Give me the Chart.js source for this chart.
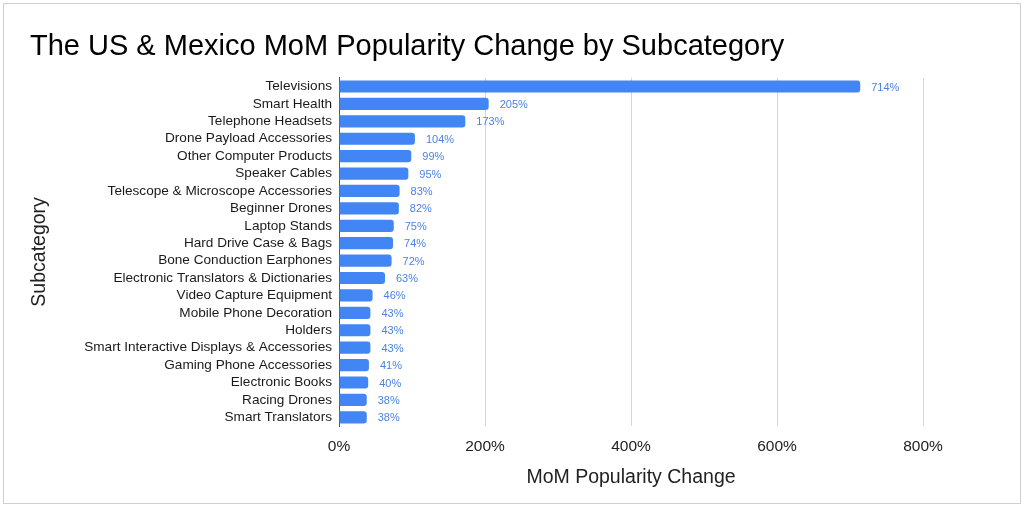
<!DOCTYPE html>
<html>
<head>
<meta charset="utf-8">
<script src="https://cdn.jsdelivr.net/npm/chart.js@4/dist/chart.umd.min.js"></script>
<style>
  html, body { margin: 0; padding: 0; background: #fff; }
  #frame { position: absolute; left: 3px; top: 3px; width: 1016px; height: 499px; border: 1px solid #cfcfcf; }
  #wrap { position: absolute; left: 0; top: 0; width: 1024px; height: 507px; }
</style>
</head>
<body>
<div id="frame"></div>
<div id="wrap"><canvas id="chart"></canvas></div>
<script>
const subcategories = [
  "Televisions", "Smart Health", "Telephone Headsets", "Drone Payload Accessories",
  "Other Computer Products", "Speaker Cables", "Telescope & Microscope Accessories",
  "Beginner Drones", "Laptop Stands", "Hard Drive Case & Bags", "Bone Conduction Earphones",
  "Electronic Translators & Dictionaries", "Video Capture Equipment", "Mobile Phone Decoration",
  "Holders", "Smart Interactive Displays & Accessories", "Gaming Phone Accessories",
  "Electronic Books", "Racing Drones", "Smart Translators"
];
const popularityChange = [714, 205, 173, 104, 99, 95, 83, 82, 75, 74, 72, 63, 46, 43, 43, 43, 41, 40, 38, 38];
const xTicks = [0, 200, 400, 600, 800];

const FONT = "'Liberation Sans', Arial, sans-serif";

// draws the value next to the end of each bar
const valueLabels = {
  id: "valueLabels",
  afterDatasetsDraw(chart) {
    const ctx = chart.ctx;
    const meta = chart.getDatasetMeta(0);
    ctx.save();
    ctx.font = "11px " + FONT;
    ctx.fillStyle = "#4a84e2";
    ctx.textAlign = "left";
    ctx.textBaseline = "middle";
    meta.data.forEach((bar, i) => {
      ctx.fillText(popularityChange[i] + "%", bar.x + 11, bar.y + 1);
    });
    ctx.restore();
  }
};

new Chart(document.getElementById("chart"), {
  type: "bar",
  data: {
    labels: subcategories,
    datasets: [{
      data: popularityChange,
      backgroundColor: "#4285f4",
      borderRadius: 3,
      borderSkipped: "start",
      categoryPercentage: 1,
      barPercentage: 0.7
    }]
  },
  options: {
    indexAxis: "y",
    responsive: true,
    maintainAspectRatio: false,
    animation: false,
    layout: { padding: { left: 30, right: 101, top: 0, bottom: 18 } },
    plugins: {
      legend: { display: false },
      tooltip: { enabled: false },
      title: {
        display: true,
        text: "The US & Mexico MoM Popularity Change by Subcategory",
        align: "start",
        color: "#000",
        font: { family: FONT, size: 29, weight: "normal" },
        padding: { top: 30, bottom: 13 }
      }
    },
    scales: {
      x: {
        min: 0,
        max: 800,
        afterBuildTicks(scale) {
          scale.ticks = xTicks.map(v => ({ value: v }));
        },
        afterFit(scale) { scale.height = 63; },
        grid: { color: "#d6d6d6", drawTicks: false },
        border: { display: false },
        ticks: {
          padding: 11,
          color: "#222",
          font: { family: FONT, size: 15.5 },
          callback: v => v + "%"
        },
        title: {
          display: true,
          text: "MoM Popularity Change",
          color: "#222",
          font: { family: FONT, size: 19.5 },
          padding: 0
        }
      },
      y: {
        afterFit(scale) { scale.width = 309; },
        grid: { display: false, drawTicks: false },
        border: { display: true, color: "#555", width: 1 },
        ticks: {
          padding: 7,
          color: "#1a1a1a",
          autoSkip: false,
          font: { family: FONT, size: 13.6 }
        },
        title: {
          display: true,
          text: "Subcategory",
          color: "#222",
          font: { family: FONT, size: 19.5, lineHeight: 1 },
          padding: 0
        }
      }
    }
  },
  plugins: [valueLabels]
});
</script>
</body>
</html>
